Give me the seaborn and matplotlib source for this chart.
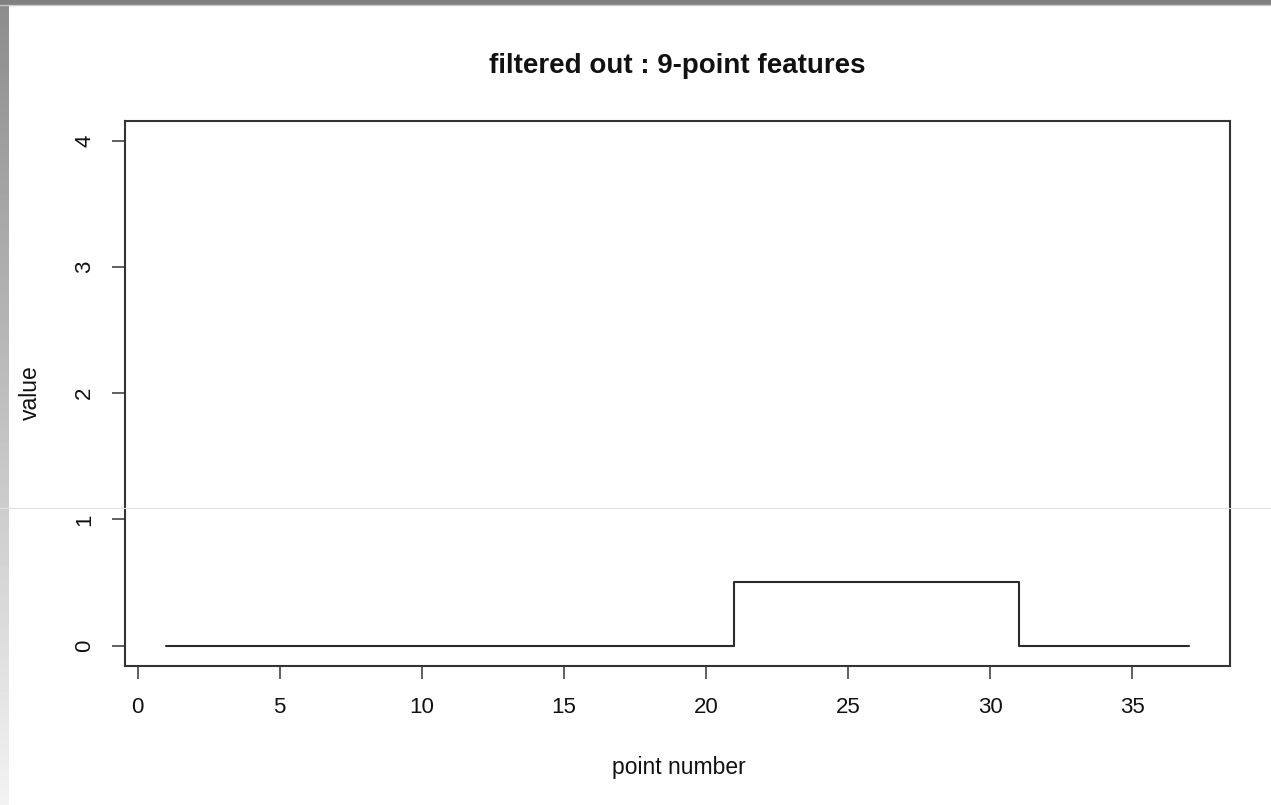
import numpy as np
import pandas as pd
import matplotlib
matplotlib.use("Agg")
import matplotlib.pyplot as plt
import seaborn as sns

# ---- data ----
point_number = list(range(1, 38))
value = [0.0] * 20 + [0.5] * 10 + [0.0] * 7
x_ticks = [0, 5, 10, 15, 20, 25, 30, 35]
y_ticks = [0, 1, 2, 3, 4]
title = "filtered out : 9-point features"
x_label = "point number"
y_label = "value"

sns.set_theme(style="white")
plt.rcParams['font.family'] = ['Liberation Sans', 'DejaVu Sans']

W, H = 1271, 805
fig = plt.figure(figsize=(W / 100, H / 100), dpi=100)
fig.patch.set_facecolor("white")

ax = fig.add_axes([125 / W, 1 - 665.7 / H, (1230 - 125) / W, (665.7 - 120.7) / H])
df = pd.DataFrame({"point number": point_number, "value": value})
sns.lineplot(data=df, x="point number", y="value", ax=ax, drawstyle="steps-post",
             color="#2b2b2b", linewidth=1.5)

xmin, xmax = min(point_number), max(point_number)
ax.set_xlim(xmin - 0.04 * (xmax - xmin), xmax + 0.04 * (xmax - xmin))
ax.set_ylim(-0.16, 4.16)
ax.set_xticks(x_ticks)
ax.set_yticks(y_ticks)
ax.set_xticklabels([str(t) for t in x_ticks])
ax.set_yticklabels([str(t) for t in y_ticks], rotation=90, va="center")
ax.tick_params(axis="both", which="major", length=9.5, width=1.2, color="#444444",
               labelsize=16, labelcolor="#111111", direction="out", bottom=True, left=True)
ax.tick_params(axis="x", pad=13)
ax.tick_params(axis="y", pad=12)
for s in ax.spines.values():
    s.set_color("#333333")
    s.set_linewidth(1.5)
    s.set_visible(True)
ax.grid(False)
ax.set_xlabel("")
ax.set_ylabel("")

fig.text(677 / W, 1 - 66 / H, title, ha="center", va="center", fontsize=20,
         fontweight="bold", color="#111111")
fig.text(679 / W, 1 - 767 / H, x_label, ha="center", va="center", fontsize=16.5,
         color="#111111")
fig.text(30 / W, 1 - 393 / H, y_label, ha="center", va="center", fontsize=16.5,
         rotation=90, color="#111111")

# screenshot frame: top gray band and left gradient band
top = fig.add_axes([0, 1 - 5 / H, 1, 5 / H])
top.set_axis_off()
top.add_patch(plt.Rectangle((0, 0), 1, 1, transform=top.transAxes, color="#808080"))
fig.add_artist(plt.Line2D([0, 1], [1 - 5.5 / H, 1 - 5.5 / H], color="#c8c8c8", lw=1))
left = fig.add_axes([0, 0, 9 / W, 1 - 5 / H])
grad = np.linspace(0.55, 0.95, 256).reshape(-1, 1)
left.imshow(grad, aspect="auto", cmap="gray", vmin=0, vmax=1, extent=[0, 1, 0, 1], origin="upper")
left.set_axis_off()
fig.add_artist(plt.Line2D([0, 1], [1 - 508 / H, 1 - 508 / H], color="#e0e0e0", lw=0.8))

fig.savefig("out.png", dpi=100)
